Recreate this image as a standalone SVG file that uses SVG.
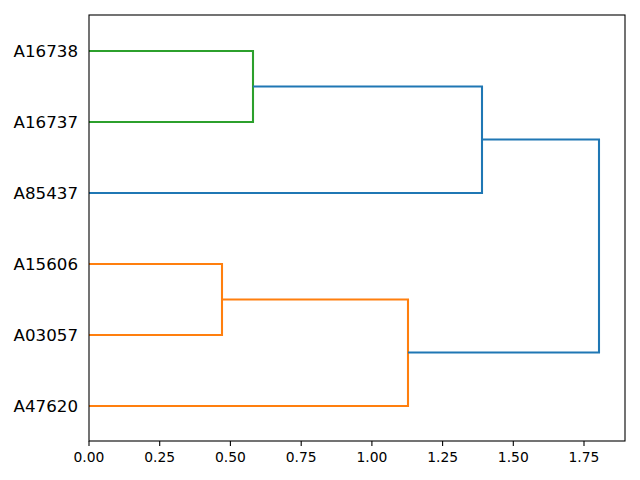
<svg xmlns="http://www.w3.org/2000/svg" width="640" height="480" viewBox="0 0 640 480">
<style>
.l{fill:none;stroke-width:2.08;stroke-linecap:butt;stroke-linejoin:miter}
.c0{stroke:#1f77b4}.c1{stroke:#ff7f0e}.c2{stroke:#2ca02c}
.yl{font-family:"DejaVu Sans",sans-serif;font-size:16.67px;fill:#000;text-anchor:end}
.xl{font-family:"DejaVu Sans",sans-serif;font-size:13.89px;fill:#000;text-anchor:middle}
.tk{stroke:#000;stroke-width:1.1}
</style>
<rect x="0" y="0" width="640" height="480" fill="#fff"/>
<g id="connectors">
<path class="l c2" d="M89 51H253V122H89"/>
<path class="l c1" d="M89 264H222V335H89"/>
<path class="l c1" d="M222 299.5H408V406H89"/>
<path class="l c0" d="M253 86.5H482V193H89"/>
<path class="l c0" d="M482 139.5H599V352.5H408"/>
</g>
<g id="axes">
<rect x="89" y="15" width="536" height="426" fill="none" stroke="#000" stroke-width="1.1"/>
<g class="tk">
<line x1="89" y1="441" x2="89" y2="446"/>
<line x1="159.7" y1="441" x2="159.7" y2="446"/>
<line x1="230.4" y1="441" x2="230.4" y2="446"/>
<line x1="301.2" y1="441" x2="301.2" y2="446"/>
<line x1="371.9" y1="441" x2="371.9" y2="446"/>
<line x1="442.6" y1="441" x2="442.6" y2="446"/>
<line x1="513.3" y1="441" x2="513.3" y2="446"/>
<line x1="584" y1="441" x2="584" y2="446"/>
</g>
<text class="xl" x="89" y="462">0.00</text>
<text class="xl" x="159.7" y="462">0.25</text>
<text class="xl" x="230.4" y="462">0.50</text>
<text class="xl" x="301.2" y="462">0.75</text>
<text class="xl" x="371.9" y="462">1.00</text>
<text class="xl" x="442.6" y="462">1.25</text>
<text class="xl" x="513.3" y="462">1.50</text>
<text class="xl" x="584" y="462">1.75</text>
</g>
<g id="leaf-A16738"><text class="yl" x="78" y="57">A16738</text></g>
<g id="leaf-A16737"><text class="yl" x="78" y="128">A16737</text></g>
<g id="leaf-A85437"><text class="yl" x="78" y="199">A85437</text></g>
<g id="leaf-A15606"><text class="yl" x="78" y="270">A15606</text></g>
<g id="leaf-A03057"><text class="yl" x="78" y="341">A03057</text></g>
<g id="leaf-A47620"><text class="yl" x="78" y="412">A47620</text></g>
</svg>
